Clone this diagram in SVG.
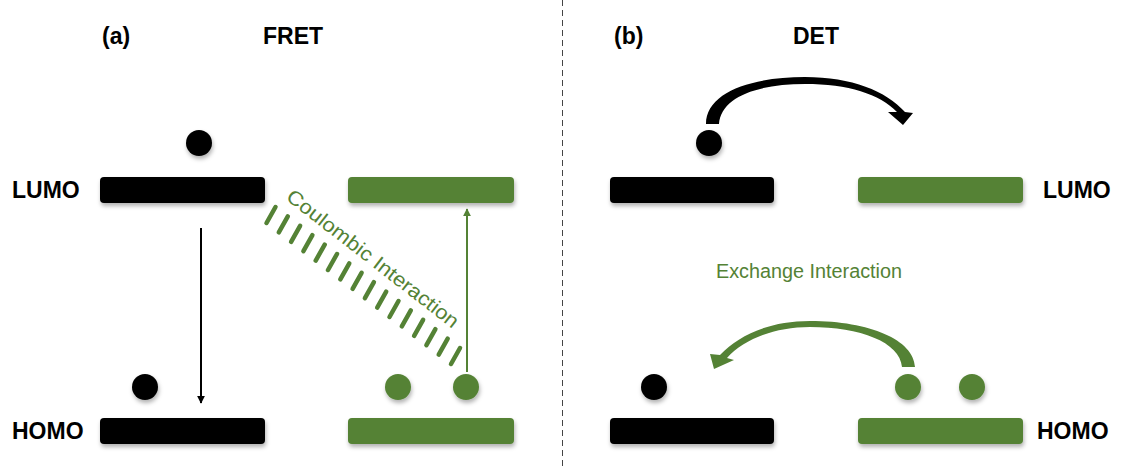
<svg xmlns="http://www.w3.org/2000/svg" width="1124" height="467" viewBox="0 0 1124 467">
  <defs>
    <filter id="sh" x="-20%" y="-30%" width="140%" height="180%">
      <feDropShadow dx="1" dy="3" stdDeviation="2" flood-color="#000" flood-opacity="0.3"/>
    </filter>
    <marker id="ahB" viewBox="0 0 10 10" refX="9" refY="5" markerWidth="4" markerHeight="4" orient="auto">
      <path d="M0,0 L10,5 L0,10 z" fill="#000"/>
    </marker>
    <marker id="ahG" viewBox="0 0 10 10" refX="9" refY="5" markerWidth="4" markerHeight="4" orient="auto">
      <path d="M0,0 L10,5 L0,10 z" fill="#548235"/>
    </marker>
  </defs>
  <style>
    .lbl { font-family: "Liberation Sans", Arial, sans-serif; font-weight: bold; font-size: 23px; fill: #000; }
    .ttl { font-family: "Liberation Sans", Arial, sans-serif; font-weight: bold; font-size: 23px; fill: #000; }
    .gtxt { font-family: "Liberation Sans", Arial, sans-serif; font-size: 20px; fill: #548235; }
    .barK { fill: #000; filter: url(#sh); }
    .barG { fill: #548235; filter: url(#sh); }
    .dotK { fill: #000; filter: url(#sh); }
    .dotG { fill: #548235; filter: url(#sh); }
    .dash { stroke: #548235; stroke-width: 4.5; stroke-linecap: round; }
  </style>
  <rect width="1124" height="467" fill="#fff"/>

  <!-- separator -->
  <line x1="562.5" y1="0" x2="562.5" y2="467" stroke="#444" stroke-width="1" stroke-dasharray="6,4"/>

  <!-- titles -->
  <text class="ttl" x="102" y="44">(a)</text>
  <text class="ttl" x="263" y="44">FRET</text>
  <text class="ttl" x="614" y="44">(b)</text>
  <text class="ttl" x="793" y="44">DET</text>

  <!-- level labels -->
  <text class="lbl" x="12" y="198">LUMO</text>
  <text class="lbl" x="12" y="439">HOMO</text>
  <text class="lbl" x="1043" y="198">LUMO</text>
  <text class="lbl" x="1037" y="439">HOMO</text>

  <!-- (a) FRET nodes -->
  <g id="a-donor-lumo"><rect class="barK" x="100" y="177" width="165" height="26" rx="4"/></g>
  <g id="a-acceptor-lumo"><rect class="barG" x="348" y="177" width="166" height="26" rx="4"/></g>
  <g id="a-donor-homo"><rect class="barK" x="100" y="418" width="165" height="26" rx="4"/></g>
  <g id="a-acceptor-homo"><rect class="barG" x="348" y="418" width="166" height="26" rx="4"/></g>
  <g id="a-e1"><circle class="dotK" cx="199" cy="143" r="13"/></g>
  <g id="a-e2"><circle class="dotK" cx="145" cy="387" r="13"/></g>
  <g id="a-e3"><circle class="dotG" cx="398" cy="387" r="13"/></g>
  <g id="a-e4"><circle class="dotG" cx="466" cy="387" r="13"/></g>

  <!-- (b) DET nodes -->
  <g id="b-donor-lumo"><rect class="barK" x="610" y="177" width="164" height="26" rx="4"/></g>
  <g id="b-acceptor-lumo"><rect class="barG" x="858" y="177" width="165" height="26" rx="4"/></g>
  <g id="b-donor-homo"><rect class="barK" x="610" y="418" width="164" height="26" rx="4"/></g>
  <g id="b-acceptor-homo"><rect class="barG" x="858" y="418" width="165" height="26" rx="4"/></g>
  <g id="b-e1"><circle class="dotK" cx="709" cy="143" r="13"/></g>
  <g id="b-e2"><circle class="dotK" cx="654" cy="387" r="13"/></g>
  <g id="b-e3"><circle class="dotG" cx="908" cy="387" r="13"/></g>
  <g id="b-e4"><circle class="dotG" cx="972" cy="387" r="13"/></g>

  <!-- connectors -->
  <g id="connectors">
    <line x1="201" y1="228" x2="201" y2="403" stroke="#000" stroke-width="2" marker-end="url(#ahB)"/>
    <line x1="467" y1="372" x2="467" y2="209" stroke="#548235" stroke-width="2" marker-end="url(#ahG)"/>
    <!-- Coulombic interaction dashes -->
    <g class="dash">
      <line x1="275.5" y1="207" x2="266.5" y2="223"/>
      <line x1="287.8" y1="216.4" x2="278.8" y2="232.4"/>
      <line x1="300.1" y1="225.8" x2="291.1" y2="241.8"/>
      <line x1="312.4" y1="235.2" x2="303.4" y2="251.2"/>
      <line x1="324.7" y1="244.6" x2="315.7" y2="260.6"/>
      <line x1="337" y1="254" x2="328" y2="270"/>
      <line x1="349.3" y1="263.4" x2="340.3" y2="279.4"/>
      <line x1="361.6" y1="272.8" x2="352.6" y2="288.8"/>
      <line x1="373.9" y1="282.2" x2="364.9" y2="298.2"/>
      <line x1="386.2" y1="291.6" x2="377.2" y2="307.6"/>
      <line x1="398.5" y1="301" x2="389.5" y2="317"/>
      <line x1="410.8" y1="310.4" x2="401.8" y2="326.4"/>
      <line x1="423.1" y1="319.8" x2="414.1" y2="335.8"/>
      <line x1="435.4" y1="329.2" x2="426.4" y2="345.2"/>
      <line x1="447.7" y1="338.6" x2="438.7" y2="354.6"/>
      <line x1="460" y1="348" x2="451" y2="364"/>
    </g>
    <!-- DET curved arrows -->
    <path d="M706,124 C706,92 752,77 805,77 C852,77 886,91 905,112 L913,113 L903,125 L888,112 L897,112 C880,94 848,84 805,84 C757,84 721,97 719,124 Z" fill="#000"/>
    <path d="M915,367 C914,340 870,321 810,321 C768,321 738,336 720,355 L710,354 L714,369 L734,360 L727,358 C744,339 775,327 810,327 C860,327 900,342 902,367 Z" fill="#548235"/>
  </g>

  <!-- interaction labels -->
  <text class="gtxt" x="0" y="0" transform="translate(285,199) rotate(37.8)" textLength="212" lengthAdjust="spacingAndGlyphs">Coulombic Interaction</text>
  <text class="gtxt" x="716" y="278" textLength="186" lengthAdjust="spacingAndGlyphs">Exchange Interaction</text>
</svg>
